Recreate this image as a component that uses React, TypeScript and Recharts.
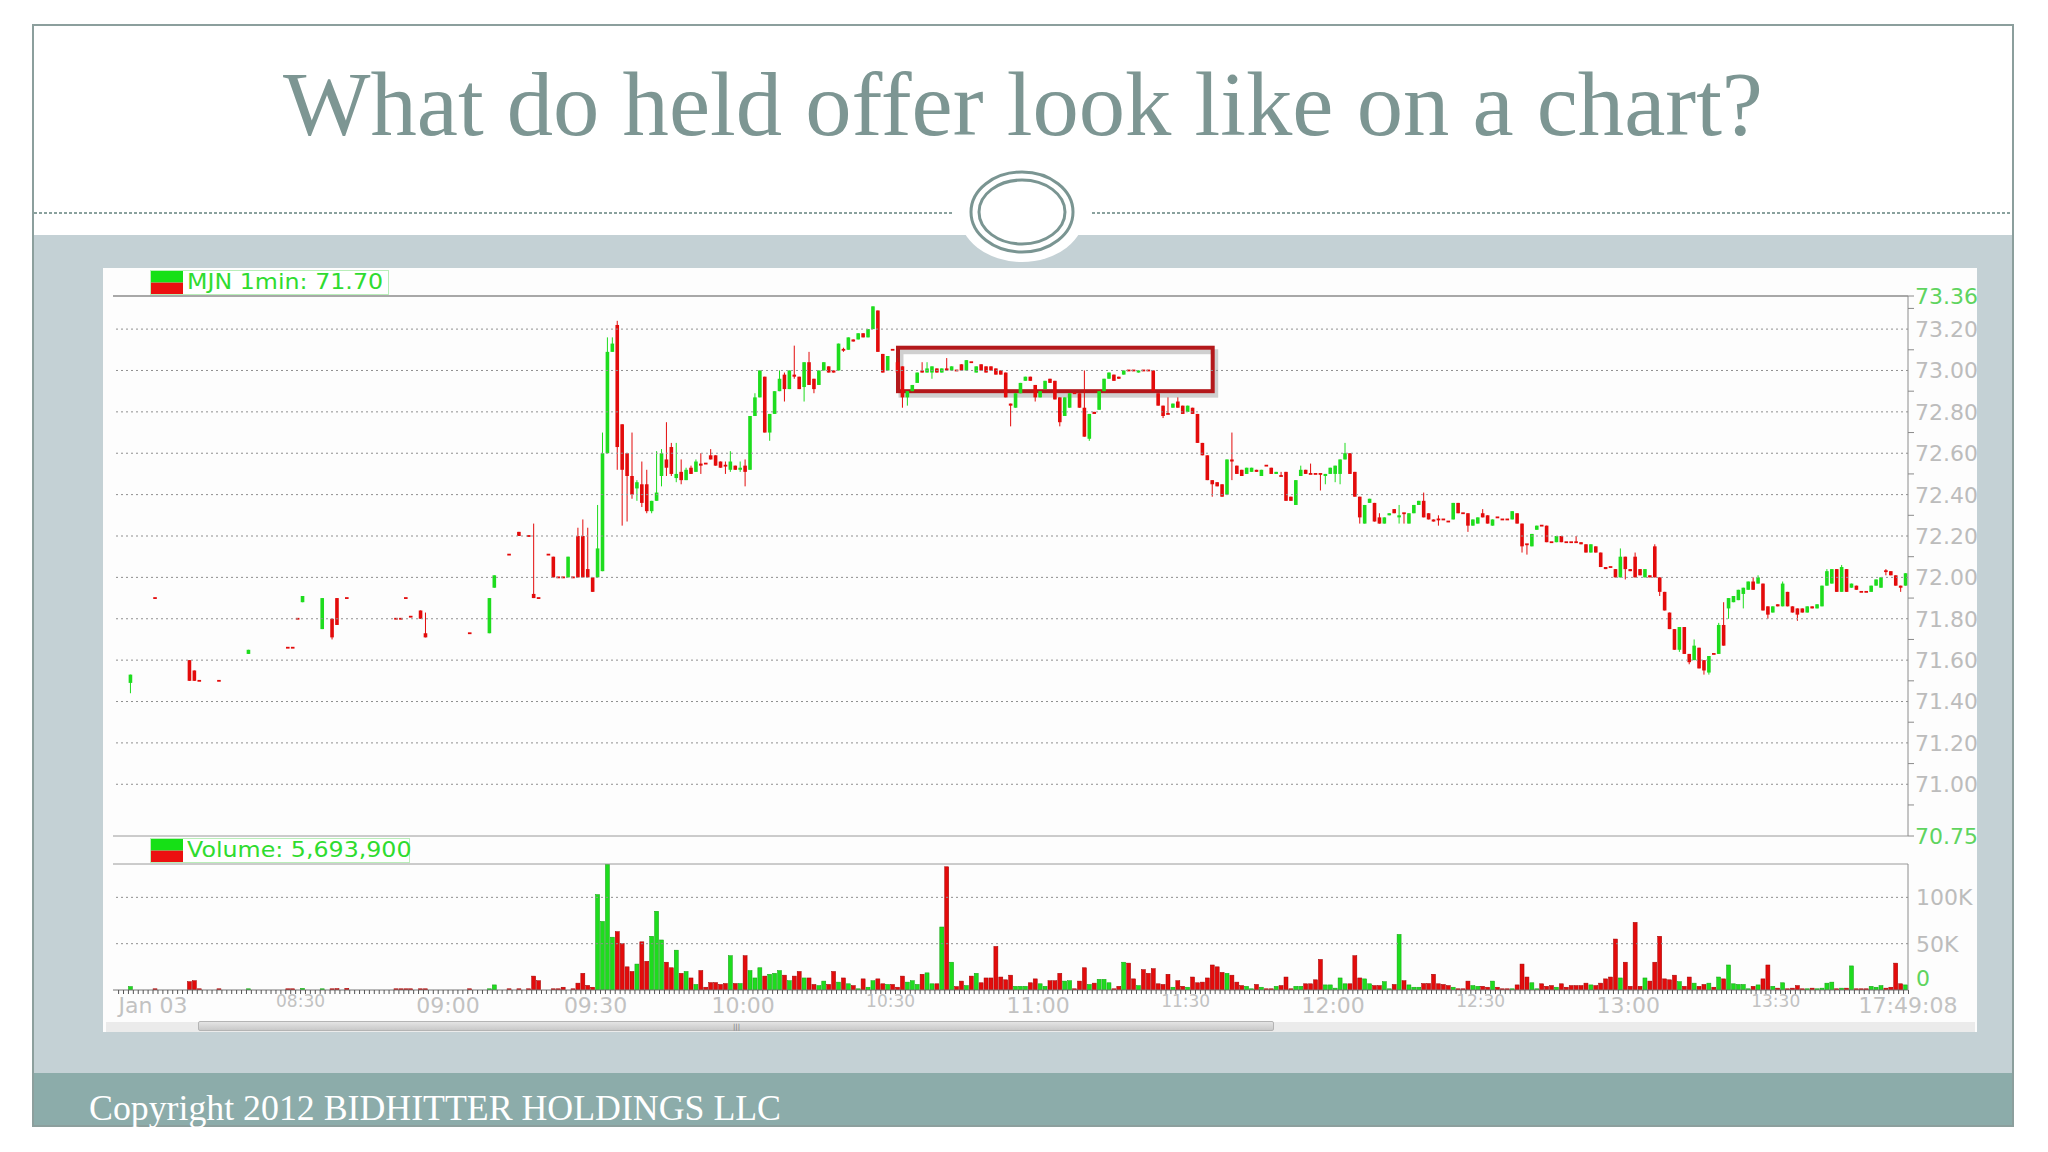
import React from 'react';
import { Bar, ComposedChart, ReferenceArea, ReferenceLine, XAxis, YAxis } from 'recharts';

// MJN one-minute candles: [minute after 08:00, open, high, low, close]
const preMarketCandles = [
  [-4, 71.49, 71.53, 71.44, 71.53], [1, 71.9, 71.9, 71.9, 71.9], [8, 71.6, 71.6, 71.5, 71.5], [9, 71.55, 71.55, 71.5, 71.5],
  [10, 71.5, 71.5, 71.5, 71.5], [14, 71.5, 71.5, 71.5, 71.5], [20, 71.63, 71.65, 71.63, 71.65], [28, 71.66, 71.66, 71.66, 71.66],
  [29, 71.66, 71.66, 71.66, 71.66], [30, 71.8, 71.8, 71.8, 71.8], [31, 71.88, 71.91, 71.88, 71.91], [35, 71.75, 71.9, 71.75, 71.9],
  [37, 71.8, 71.8, 71.7, 71.71], [38, 71.9, 71.9, 71.77, 71.77], [40, 71.9, 71.9, 71.9, 71.9], [50, 71.8, 71.8, 71.8, 71.8],
  [51, 71.8, 71.8, 71.8, 71.8], [52, 71.9, 71.9, 71.9, 71.9], [53, 71.81, 71.81, 71.81, 71.81], [55, 71.84, 71.84, 71.8, 71.8],
  [56, 71.73, 71.83, 71.71, 71.71], [65, 71.73, 71.73, 71.73, 71.73], [69, 71.73, 71.9, 71.73, 71.9], [70, 71.95, 72.01, 71.95, 72.01],
  [73, 72.11, 72.11, 72.11, 72.11], [75, 72.22, 72.22, 72.2, 72.2], [77, 72.2, 72.2, 72.2, 72.2], [78, 71.92, 72.26, 71.9, 71.9],
  [79, 71.9, 71.9, 71.9, 71.9], [81, 72.11, 72.11, 72.11, 72.11], [82, 72.1, 72.1, 72.0, 72.0], [83, 72.0, 72.0, 72.0, 72.0],
  [84, 72.0, 72.0, 72.0, 72.0], [85, 72.0, 72.1, 72.0, 72.1], [86, 72.0, 72.0, 72.0, 72.0], [87, 72.2, 72.24, 72.0, 72.0],
  [88, 72.2, 72.28, 72.0, 72.0], [89, 72.04, 72.24, 72.0, 72.0],
];

const sessionCandles = [
  [90, 72.0, 72.0, 71.93, 71.93], [91, 72.0, 72.35, 72.0, 72.14], [92, 72.03, 72.7, 72.03, 72.6], [93, 72.6, 73.16, 72.6, 73.09],
  [94, 73.09, 73.16, 73.09, 73.13], [95, 73.22, 73.24, 72.52, 72.63], [96, 72.74, 72.74, 72.25, 72.52], [97, 72.6, 72.6, 72.27, 72.49],
  [98, 72.49, 72.7, 72.38, 72.4], [99, 72.43, 72.47, 72.37, 72.46], [100, 72.45, 72.56, 72.34, 72.36], [101, 72.45, 72.52, 72.31, 72.32],
  [102, 72.32, 72.37, 72.31, 72.37], [103, 72.37, 72.61, 72.37, 72.41], [104, 72.49, 72.62, 72.44, 72.6], [105, 72.57, 72.75, 72.49, 72.53],
  [106, 72.63, 72.65, 72.49, 72.5], [107, 72.48, 72.65, 72.46, 72.5], [108, 72.51, 72.57, 72.45, 72.47], [109, 72.47, 72.53, 72.47, 72.52],
  [110, 72.53, 72.54, 72.5, 72.5], [111, 72.51, 72.57, 72.51, 72.56], [112, 72.55, 72.6, 72.5, 72.54], [113, 72.55, 72.55, 72.55, 72.55],
  [114, 72.59, 72.62, 72.57, 72.57], [115, 72.59, 72.59, 72.54, 72.54], [116, 72.56, 72.56, 72.53, 72.53], [117, 72.54, 72.56, 72.5, 72.54],
  [118, 72.52, 72.61, 72.51, 72.56], [119, 72.54, 72.54, 72.52, 72.52], [120, 72.52, 72.56, 72.51, 72.53], [121, 72.54, 72.57, 72.44, 72.51],
  [122, 72.52, 72.78, 72.52, 72.78], [123, 72.78, 72.89, 72.78, 72.87], [124, 72.87, 73.0, 72.87, 73.0], [125, 72.97, 72.97, 72.7, 72.7],
  [126, 72.7, 72.79, 72.66, 72.79], [127, 72.79, 72.9, 72.79, 72.9], [128, 72.9, 73.0, 72.9, 72.96], [129, 72.98, 72.99, 72.85, 72.91],
  [130, 72.91, 73.0, 72.91, 73.0], [131, 72.98, 73.12, 72.96, 72.97], [132, 72.97, 72.97, 72.91, 72.91], [133, 72.92, 73.04, 72.85, 73.04],
  [134, 73.04, 73.09, 72.93, 72.93], [135, 72.96, 72.96, 72.89, 72.91], [136, 72.93, 73.0, 72.93, 73.0], [137, 73.0, 73.04, 73.0, 73.04],
  [138, 73.02, 73.02, 72.99, 72.99], [139, 73.0, 73.0, 72.99, 72.99], [140, 73.0, 73.13, 73.0, 73.13], [141, 73.1, 73.11, 73.09, 73.1],
  [142, 73.1, 73.16, 73.1, 73.16], [143, 73.15, 73.15, 73.14, 73.14], [144, 73.15, 73.18, 73.15, 73.18], [145, 73.18, 73.18, 73.16, 73.16],
  [146, 73.16, 73.2, 73.16, 73.2], [147, 73.2, 73.31, 73.2, 73.31], [148, 73.29, 73.29, 73.09, 73.09], [149, 73.08, 73.08, 72.99, 72.99],
  [150, 73.0, 73.07, 73.0, 73.07], [151, 73.1, 73.1, 73.1, 73.1], [152, 73.04, 73.06, 72.99, 72.99], [153, 73.02, 73.02, 72.82, 72.87],
  [154, 72.87, 72.9, 72.83, 72.9], [155, 72.9, 72.93, 72.9, 72.93], [156, 72.94, 72.99, 72.94, 72.99], [157, 73.0, 73.04, 72.99, 72.99],
  [158, 72.99, 73.04, 72.99, 73.01], [159, 72.99, 73.02, 72.96, 73.02], [160, 73.01, 73.01, 72.99, 72.99], [161, 72.99, 73.01, 72.99, 73.01],
  [162, 73.01, 73.06, 73.0, 73.0], [163, 73.0, 73.02, 73.0, 73.02], [164, 73.0, 73.0, 73.0, 73.0], [165, 73.03, 73.03, 73.0, 73.0],
  [166, 73.0, 73.05, 73.0, 73.05], [167, 73.04, 73.04, 73.04, 73.04], [168, 72.99, 73.02, 72.99, 73.02], [169, 73.03, 73.03, 73.0, 73.0],
  [170, 73.02, 73.02, 72.99, 72.99], [171, 73.02, 73.02, 73.0, 73.0], [172, 73.01, 73.01, 72.98, 72.98], [173, 73.0, 73.0, 72.98, 72.98],
  [174, 72.99, 72.99, 72.87, 72.87], [175, 72.84, 72.84, 72.73, 72.83], [176, 72.82, 72.89, 72.82, 72.89], [177, 72.89, 72.94, 72.89, 72.94],
  [178, 72.95, 72.97, 72.95, 72.97], [179, 72.97, 72.97, 72.95, 72.95], [180, 72.93, 72.93, 72.85, 72.87], [181, 72.87, 72.9, 72.87, 72.9],
  [182, 72.91, 72.95, 72.91, 72.95], [183, 72.96, 72.96, 72.94, 72.94], [184, 72.95, 72.95, 72.86, 72.86], [185, 72.87, 72.87, 72.73, 72.75],
  [186, 72.78, 72.87, 72.78, 72.87], [187, 72.82, 72.89, 72.82, 72.89], [188, 72.89, 72.89, 72.89, 72.89], [189, 72.89, 72.89, 72.82, 72.82],
  [190, 72.82, 73.0, 72.68, 72.68], [191, 72.67, 72.79, 72.66, 72.79], [192, 72.8, 72.8, 72.79, 72.79], [193, 72.81, 72.9, 72.81, 72.9],
  [194, 72.9, 72.96, 72.9, 72.96], [195, 72.96, 72.99, 72.96, 72.99], [196, 72.98, 72.98, 72.95, 72.95], [197, 72.97, 72.97, 72.96, 72.96],
  [198, 72.98, 73.0, 72.98, 73.0], [199, 73.0, 73.0, 73.0, 73.0], [200, 73.0, 73.0, 73.0, 73.0], [201, 72.99, 73.0, 72.99, 73.0],
  [202, 73.0, 73.0, 73.0, 73.0], [203, 73.0, 73.0, 73.0, 73.0], [204, 73.0, 73.0, 72.9, 72.9], [205, 72.89, 72.89, 72.83, 72.83],
  [206, 72.83, 72.83, 72.77, 72.78], [207, 72.79, 72.87, 72.79, 72.79], [208, 72.82, 72.84, 72.82, 72.84], [209, 72.85, 72.87, 72.82, 72.82],
  [210, 72.83, 72.83, 72.79, 72.79], [211, 72.8, 72.83, 72.8, 72.83], [212, 72.82, 72.82, 72.79, 72.79], [213, 72.79, 72.79, 72.65, 72.65],
  [214, 72.65, 72.65, 72.59, 72.59], [215, 72.59, 72.59, 72.47, 72.47], [216, 72.47, 72.47, 72.39, 72.45], [217, 72.46, 72.46, 72.44, 72.44],
  [218, 72.45, 72.45, 72.39, 72.39], [219, 72.4, 72.57, 72.4, 72.57], [220, 72.57, 72.7, 72.47, 72.56], [221, 72.54, 72.54, 72.5, 72.5],
  [222, 72.52, 72.52, 72.49, 72.49], [223, 72.5, 72.53, 72.5, 72.53], [224, 72.51, 72.53, 72.51, 72.53], [225, 72.52, 72.52, 72.51, 72.51],
  [226, 72.49, 72.52, 72.49, 72.52], [227, 72.54, 72.54, 72.54, 72.54], [228, 72.53, 72.53, 72.5, 72.5], [229, 72.5, 72.51, 72.5, 72.51],
  [230, 72.49, 72.51, 72.49, 72.49], [231, 72.51, 72.51, 72.37, 72.37], [232, 72.39, 72.39, 72.37, 72.37], [233, 72.35, 72.47, 72.35, 72.47],
  [234, 72.49, 72.54, 72.49, 72.52], [235, 72.52, 72.52, 72.5, 72.5], [236, 72.5, 72.55, 72.5, 72.5], [237, 72.5, 72.5, 72.5, 72.5],
  [238, 72.5, 72.5, 72.42, 72.5], [239, 72.49, 72.5, 72.45, 72.5], [240, 72.5, 72.53, 72.5, 72.53], [241, 72.5, 72.54, 72.46, 72.54],
  [242, 72.5, 72.57, 72.45, 72.57], [243, 72.57, 72.65, 72.57, 72.6], [244, 72.6, 72.6, 72.5, 72.5], [245, 72.51, 72.51, 72.39, 72.39],
  [246, 72.39, 72.39, 72.26, 72.29], [247, 72.26, 72.35, 72.26, 72.35], [248, 72.36, 72.38, 72.36, 72.38], [249, 72.36, 72.36, 72.27, 72.27],
  [250, 72.29, 72.31, 72.26, 72.26], [251, 72.26, 72.29, 72.26, 72.29], [252, 72.3, 72.31, 72.3, 72.31], [253, 72.33, 72.33, 72.31, 72.31],
  [254, 72.29, 72.35, 72.26, 72.3], [255, 72.31, 72.31, 72.26, 72.31], [256, 72.26, 72.31, 72.26, 72.31], [257, 72.31, 72.35, 72.31, 72.35],
  [258, 72.35, 72.37, 72.35, 72.37], [259, 72.37, 72.41, 72.29, 72.29], [260, 72.31, 72.31, 72.28, 72.28], [261, 72.28, 72.28, 72.27, 72.27],
  [262, 72.28, 72.3, 72.25, 72.28], [263, 72.28, 72.28, 72.28, 72.28], [264, 72.27, 72.27, 72.27, 72.27], [265, 72.28, 72.36, 72.28, 72.36],
  [266, 72.36, 72.36, 72.31, 72.31], [267, 72.31, 72.31, 72.31, 72.31], [268, 72.31, 72.31, 72.22, 72.25], [269, 72.25, 72.28, 72.25, 72.28],
  [270, 72.26, 72.29, 72.26, 72.29], [271, 72.31, 72.33, 72.29, 72.29], [272, 72.3, 72.3, 72.26, 72.26], [273, 72.25, 72.28, 72.25, 72.28],
  [274, 72.29, 72.29, 72.29, 72.29], [275, 72.28, 72.28, 72.28, 72.28], [276, 72.28, 72.28, 72.28, 72.28], [277, 72.28, 72.32, 72.28, 72.32],
  [278, 72.31, 72.31, 72.26, 72.26], [279, 72.26, 72.26, 72.12, 72.15], [280, 72.16, 72.16, 72.11, 72.16], [281, 72.15, 72.21, 72.15, 72.21],
  [282, 72.23, 72.25, 72.23, 72.25], [283, 72.25, 72.25, 72.25, 72.25], [284, 72.25, 72.25, 72.17, 72.17], [285, 72.17, 72.17, 72.17, 72.17],
  [286, 72.17, 72.2, 72.17, 72.2], [287, 72.2, 72.2, 72.17, 72.17], [288, 72.17, 72.17, 72.17, 72.17], [289, 72.17, 72.17, 72.17, 72.17],
  [290, 72.17, 72.2, 72.17, 72.17], [291, 72.17, 72.17, 72.16, 72.16], [292, 72.16, 72.16, 72.12, 72.12], [293, 72.12, 72.16, 72.12, 72.16],
  [294, 72.15, 72.15, 72.12, 72.12], [295, 72.12, 72.12, 72.05, 72.05], [296, 72.05, 72.05, 72.04, 72.04], [297, 72.05, 72.05, 72.05, 72.05],
  [298, 72.04, 72.04, 72.0, 72.0], [299, 72.0, 72.14, 72.0, 72.1], [300, 72.1, 72.1, 71.99, 72.04], [301, 72.04, 72.04, 72.03, 72.03],
  [302, 72.1, 72.12, 72.0, 72.0], [303, 72.04, 72.04, 72.01, 72.01], [304, 72.0, 72.04, 72.0, 72.04], [305, 72.01, 72.01, 72.0, 72.0],
  [306, 72.15, 72.16, 72.0, 72.0], [307, 72.0, 72.0, 71.91, 71.93], [308, 71.93, 71.93, 71.84, 71.84], [309, 71.83, 71.83, 71.75, 71.75],
  [310, 71.75, 71.75, 71.65, 71.65], [311, 71.65, 71.76, 71.64, 71.76], [312, 71.76, 71.76, 71.63, 71.63], [313, 71.63, 71.63, 71.58, 71.59],
  [314, 71.6, 71.7, 71.6, 71.67], [315, 71.66, 71.66, 71.56, 71.56], [316, 71.6, 71.6, 71.53, 71.55], [317, 71.54, 71.62, 71.53, 71.62],
  [318, 71.63, 71.63, 71.63, 71.63], [319, 71.63, 71.78, 71.63, 71.77], [320, 71.77, 71.88, 71.67, 71.67], [321, 71.85, 71.9, 71.8, 71.9],
  [322, 71.88, 71.91, 71.88, 71.91], [323, 71.89, 71.94, 71.89, 71.94], [324, 71.92, 71.95, 71.85, 71.95], [325, 71.94, 71.98, 71.94, 71.98],
  [326, 71.98, 72.0, 71.94, 71.94], [327, 71.97, 72.01, 71.97, 72.0], [328, 71.97, 71.97, 71.84, 71.84], [329, 71.86, 71.86, 71.8, 71.82],
  [330, 71.83, 71.86, 71.83, 71.86], [331, 71.87, 71.87, 71.86, 71.86], [332, 71.86, 71.98, 71.86, 71.97], [333, 71.93, 71.93, 71.86, 71.86],
  [334, 71.86, 71.86, 71.83, 71.83], [335, 71.85, 71.85, 71.79, 71.82], [336, 71.85, 71.85, 71.83, 71.83], [337, 71.83, 71.86, 71.83, 71.86],
  [338, 71.86, 71.86, 71.85, 71.85], [339, 71.85, 71.87, 71.85, 71.87], [340, 71.86, 71.96, 71.86, 71.96], [341, 71.96, 72.04, 71.96, 72.03],
  [342, 71.97, 72.04, 71.97, 72.04], [343, 72.04, 72.04, 71.93, 71.93], [344, 71.93, 72.06, 71.93, 72.05], [345, 72.04, 72.04, 71.93, 71.93],
  [346, 71.95, 71.97, 71.95, 71.97], [347, 71.96, 71.96, 71.94, 71.94], [348, 71.93, 71.93, 71.93, 71.93], [349, 71.93, 71.93, 71.93, 71.93],
  [350, 71.93, 71.96, 71.93, 71.96], [351, 71.96, 71.99, 71.96, 71.99], [352, 71.95, 72.0, 71.95, 72.0], [353, 72.03, 72.04, 72.01, 72.03],
  [354, 72.03, 72.03, 72.01, 72.01], [355, 72.01, 72.01, 71.96, 71.96], [356, 71.96, 71.96, 71.93, 71.95], [357, 71.96, 72.02, 71.96, 72.02],
];

// volume per minute, thousands of shares: [minute after 08:00, volume]
const volumes = [
  [-4, 3.7], [1, 1], [8, 9], [9, 10], [10, 0.7], [14, 0.5], [20, 1], [28, 1], [29, 1], [31, 1.8], [35, 1], [37, 1], [38, 1.5],
  [40, 1.8], [50, 0.7], [51, 0.7], [52, 0.7], [53, 0.7], [55, 1], [56, 1.2], [65, 0.5], [69, 1], [70, 5.5], [73, 0.5], [75, 0.7],
  [77, 0.5], [78, 15], [79, 10], [82, 0.8], [83, 0.5], [84, 3], [86, 1], [87, 7.4], [88, 18], [89, 5], [90, 3],
  [91, 103], [92, 74], [93, 136], [94, 57], [95, 63], [96, 50], [97, 25], [98, 20], [99, 28], [100, 52], [101, 31], [102, 58],
  [103, 85], [104, 54], [105, 30], [106, 24], [107, 43], [108, 18], [109, 20], [110, 13], [111, 6], [112, 21], [113, 3], [114, 8],
  [115, 8], [116, 6], [117, 7], [118, 37], [119, 7], [120, 7], [121, 37], [122, 21], [123, 13], [124, 24], [125, 15], [126, 17],
  [127, 18], [128, 21], [129, 16], [130, 10], [131, 15], [132, 20], [133, 13], [134, 13], [135, 6], [136, 4.8], [137, 9.6], [138, 6],
  [139, 20], [140, 8.5], [141, 13], [142, 6.7], [143, 4.8], [144, 1], [145, 12], [146, 3], [147, 10], [148, 12], [149, 6.7], [150, 6],
  [151, 6], [152, 3], [153, 15], [154, 8.5], [155, 10], [156, 6], [157, 17], [158, 18.5], [159, 6.7], [160, 6.7], [161, 68], [162, 133],
  [163, 30], [164, 3.7], [165, 9.6], [166, 4.8], [167, 15], [168, 18], [169, 7.8], [170, 13], [171, 13], [172, 47], [173, 14], [174, 11],
  [175, 16], [176, 4], [177, 4], [178, 4], [179, 7.8], [180, 12], [181, 6.7], [182, 4], [183, 10], [184, 10], [185, 18], [186, 9.6],
  [187, 10], [188, 1], [189, 9.6], [190, 24], [191, 6], [192, 7.4], [193, 11.5], [194, 11.5], [195, 7.8], [196, 1], [197, 4], [198, 30],
  [199, 29], [200, 12], [201, 4.8], [202, 22], [203, 18], [204, 23], [205, 6.7], [206, 6], [207, 17], [208, 3], [209, 10], [210, 4],
  [211, 3], [212, 14], [213, 7.8], [214, 8.5], [215, 13], [216, 27], [217, 25], [218, 19], [219, 18], [220, 16], [221, 8.5], [222, 4.8],
  [223, 4], [224, 1], [225, 6], [226, 3], [227, 1], [228, 1], [229, 4], [230, 4.8], [231, 14], [232, 1], [233, 4], [234, 4],
  [235, 6.7], [236, 6.7], [237, 11], [238, 33], [239, 5.5], [240, 5.5], [241, 2], [242, 13], [243, 6.7], [244, 6.7], [245, 37], [246, 13],
  [247, 12], [248, 6.7], [249, 4.8], [250, 4.8], [251, 9], [252, 1], [253, 6], [254, 60], [255, 10], [256, 5.5], [257, 3], [258, 3],
  [259, 7], [260, 7], [261, 17], [262, 6.7], [263, 6], [264, 4.8], [265, 3], [266, 1], [267, 1], [268, 9.6], [269, 4.8], [270, 4],
  [271, 4], [272, 3], [273, 9.6], [274, 3], [275, 1], [276, 0.5], [277, 1], [278, 5.5], [279, 28], [280, 14], [281, 7.8], [282, 1],
  [283, 6.7], [284, 4], [285, 4.8], [286, 3], [287, 6.7], [288, 3], [289, 4.8], [290, 4.8], [291, 4.8], [292, 7.4], [293, 5.5], [294, 4.8],
  [295, 7.4], [296, 12], [297, 14], [298, 55], [299, 13], [300, 30], [301, 4], [302, 73], [303, 4], [304, 13], [305, 9.6], [306, 30],
  [307, 58], [308, 12], [309, 11], [310, 16], [311, 9], [312, 4], [313, 14], [314, 7.4], [315, 4], [316, 6], [317, 7.4], [318, 3],
  [319, 14], [320, 12], [321, 27], [322, 6.7], [323, 6], [324, 6], [325, 1], [326, 4], [327, 5.5], [328, 12], [329, 27], [330, 4],
  [331, 2], [332, 7.8], [333, 1], [334, 2], [335, 4.8], [336, 1], [337, 1], [338, 2], [339, 1], [340, 2], [341, 7.4], [342, 8.5],
  [343, 1], [344, 2], [345, 2], [346, 26], [347, 1], [348, 1], [349, 1], [350, 4], [351, 3], [352, 4.8], [353, 2], [354, 3],
  [355, 29], [356, 6.7], [357, 5.5],
];

const priceTicks = [70.75, 70.9, 71.0, 71.1, 71.2, 71.3, 71.4, 71.5, 71.6, 71.7, 71.8, 71.9, 72.0, 72.1, 72.2, 72.3, 72.4, 72.5,
  72.6, 72.7, 72.8, 72.9, 73.0, 73.1, 73.2, 73.3, 73.36];
const priceGrid = [71.0, 71.2, 71.4, 71.6, 71.8, 72.0, 72.2, 72.4, 72.6, 72.8, 73.0, 73.2];
const volumeTicks = [0, 50, 100];
const volumeTickLabels = ['0', '50K', '100K'];
const timeLabels = ['Jan 03', '08:30', '09:00', '09:30', '10:00', '10:30', '11:00', '11:30', '12:00', '12:30', '13:00', '13:30'];
const smallTimeLabels = ['08:30', '10:30', '11:30', '12:30', '13:30'];
const lastTimeLabel = '17:49:08';
const heldOffer = { from: 152, to: 216, low: 72.9, high: 73.11 };

const PRICE_MIN = 70.75;
const PRICE_MAX = 73.36;
const VOL_MAX = 136;
const X_MIN = -7.64;
const X_MAX = 357.4;

const GREEN = '#1edc1e';
const RED = '#e30b0b';
const AXIS_FONT = '"DejaVu Sans", Verdana, sans-serif';
const SLIDE_FONT = '"Liberation Serif", "DejaVu Serif", serif';

const priceData = [...preMarketCandles, ...sessionCandles].map(([t, o, h, l, c]) => ({
  t, o, h, l, c, range: [l, h], up: c > o,
}));
const upByMinute = new Map(priceData.map((d) => [d.t, d.up]));
const volumeData = volumes.map(([t, v]) => ({ t, v, up: upByMinute.get(t) ?? false }));

// minute tick marks sit on bar boundaries; labels every 30 minutes
const minuteTicks: number[] = [];
for (let k = -7; k <= 357; k++) minuteTicks.push(k + 0.5);
minuteTicks.push(X_MAX);
const labelAt = new Map<number, string>(timeLabels.map((s, i) => [i * 30 + 0.5, s]));
labelAt.set(X_MAX, lastTimeLabel);

const Candle = (props: any) => {
  const { x, y, width, height, payload } = props;
  if (x == null || y == null) return null;
  const { o, h, l, c, up } = payload;
  const cx = x + width / 2;
  const span = h - l;
  const py = (v: number) => (span > 0 ? y + ((h - v) / span) * height : y);
  const color = up ? GREEN : RED;
  const top = py(Math.max(o, c));
  const bottom = py(Math.min(o, c));
  const flat = bottom - top < 1.6;
  return (
    <g>
      {span > 0 && <line x1={cx} x2={cx} y1={y} y2={y + height} stroke={color} strokeWidth={1} />}
      <rect
        x={cx - 1.8}
        y={flat ? (top + bottom) / 2 - 0.9 : top}
        width={3.6}
        height={flat ? 1.8 : bottom - top}
        fill={color}
      />
    </g>
  );
};

const VolumeBar = (props: any) => {
  const { x, y, width, height, payload } = props;
  if (x == null || y == null) return null;
  const cx = x + width / 2;
  const h = Math.max(height, 1.2);
  return (
    <rect
      x={cx - 2}
      y={y + height - h}
      width={4}
      height={h}
      fill={payload.up ? GREEN : RED}
      stroke={payload.up ? '#10a010' : '#a00000'}
      strokeWidth={0.5}
    />
  );
};

const PriceTick = ({ x, y, payload }: any) => {
  const v = payload.value;
  const edge = v === PRICE_MIN || v === PRICE_MAX;
  const labelled = edge || priceGrid.includes(v);
  return (
    <g>
      {!labelled || edge ? <line x1={x} x2={x + 6} y1={y} y2={y} stroke="#8a8a8a" /> : null}
      {labelled && (
        <text x={x + 7} y={y} dy="0.36em" fontSize={22} fontFamily={AXIS_FONT} fill={edge ? '#5fd45f' : '#bcbcbc'}>
          {v.toFixed(2)}
        </text>
      )}
    </g>
  );
};

const VolumeTick = ({ x, y, payload }: any) => {
  const i = volumeTicks.indexOf(payload.value);
  const zero = payload.value === 0;
  return (
    <text x={x + 8} y={zero ? y - 12 : y} dy="0.36em" fontSize={22} fontFamily={AXIS_FONT} fill={zero ? '#5fd45f' : '#bcbcbc'}>
      {volumeTickLabels[i]}
    </text>
  );
};

const TimeTick = ({ x, y, payload }: any) => {
  const label = labelAt.get(payload.value);
  const small = label ? smallTimeLabels.includes(label) : false;
  return (
    <g>
      {payload.value !== X_MAX && <line x1={x} x2={x} y1={y} y2={y + 4} stroke="#555" strokeWidth={1} />}
      {label && (
        <text x={x} y={y + (small ? 17 : 23)} textAnchor="middle" fontSize={small ? 17 : 22} fontFamily={AXIS_FONT} fill="#c2c2c2">
          {label}
        </text>
      )}
    </g>
  );
};

const HeldOfferBox = (props: any) => {
  const { x, y, width, height } = props;
  return (
    <g>
      <rect x={x + 3} y={y + 4} width={width} height={height} fill="none" stroke="rgba(0,0,0,0.18)" strokeWidth={5} />
      <rect x={x} y={y} width={width} height={height} fill="none" stroke="#b3181b" strokeWidth={4} />
    </g>
  );
};

const LegendBox = ({ left, top, width, text }: { left: number; top: number; width: number; text: string }) => (
  <div
    style={{
      position: 'absolute', left, top, width, height: 25, border: '1px solid #b9eeb9', background: '#fff',
      boxSizing: 'border-box', display: 'flex', alignItems: 'center',
    }}
  >
    <div style={{ width: 32, height: 23, marginRight: 4, display: 'flex', flexDirection: 'column', flexShrink: 0 }}>
      <div style={{ flex: 1, background: '#16e016' }} />
      <div style={{ height: 1, background: '#9a9a50' }} />
      <div style={{ flex: 1, background: '#ec1010' }} />
    </div>
    <span
      style={{
        fontFamily: AXIS_FONT, fontSize: 21, color: '#2fdc2f', lineHeight: '23px', whiteSpace: 'nowrap',
        display: 'inline-block', transform: 'scaleX(1.13)', transformOrigin: 'left center',
      }}
    >
      {text}
    </span>
  </div>
);

export default function App() {
  return (
    <div style={{ position: 'relative', width: 2048, height: 1152, overflow: 'hidden', background: '#fff' }}>
      <style>{'body{margin:0}'}</style>
      <svg width={2048} height={1152} style={{ position: 'absolute', left: 0, top: 0 }}>
        <rect x={33} y={235} width={1980} height={838} fill="#c4d1d5" />
        <rect x={33} y={1073} width={1980} height={53} fill="#8cacaa" />
        <rect x={33} y={25} width={1980} height={1101} fill="none" stroke="#8c9f9d" strokeWidth={2} />
        <line x1={34} x2={953} y1={213} y2={213} stroke="#8aa19e" strokeWidth={2} strokeDasharray="3 2" />
        <line x1={1092} x2={2012} y1={213} y2={213} stroke="#8aa19e" strokeWidth={2} strokeDasharray="3 2" />
        <ellipse cx={1022} cy={213} rx={63} ry={49} fill="#fff" />
        <ellipse cx={1022} cy={212} rx={51} ry={40} fill="none" stroke="#7a9592" strokeWidth={3} />
        <ellipse cx={1022} cy={212} rx={43} ry={32} fill="none" stroke="#7a9592" strokeWidth={3} />
        <text
          x={1023} y={135} textAnchor="middle" fontFamily={SLIDE_FONT} fontSize={90} fill="#7d9693"
          textLength={1480} lengthAdjust="spacingAndGlyphs"
        >
          What do held offer look like on a chart?
        </text>
        <text x={89} y={1120} fontFamily={SLIDE_FONT} fontSize={35} fill="#fff" textLength={692} lengthAdjust="spacingAndGlyphs">
          Copyright 2012 BIDHITTER HOLDINGS LLC
        </text>
      </svg>

      <div style={{ position: 'absolute', left: 103, top: 268, width: 1874, height: 764, background: '#fdfdfd' }} />

      <div style={{ position: 'absolute', left: 113, top: 276 }}>
        <ComposedChart width={1870} height={580} data={priceData} margin={{ top: 20, right: 0, bottom: 20, left: 0 }}>
          <XAxis dataKey="t" type="number" domain={[X_MIN, X_MAX]} allowDataOverflow hide />
          <YAxis
            orientation="right"
            type="number"
            domain={[PRICE_MIN, PRICE_MAX]}
            allowDataOverflow
            ticks={priceTicks}
            interval={0}
            width={75}
            tickSize={0}
            tickMargin={0}
            tickLine={false}
            axisLine={{ stroke: '#8c8c8c' }}
            tick={<PriceTick />}
          />
          {priceGrid.map((v) => (
            <ReferenceLine key={v} y={v} stroke="#8f8f8f" strokeDasharray="2 3" />
          ))}
          <ReferenceLine y={PRICE_MAX} stroke="#a8a8a8" strokeWidth={2} />
          <ReferenceLine y={PRICE_MIN} stroke="#9a9a9a" />
          <Bar dataKey="range" barSize={4} shape={<Candle />} isAnimationActive={false} />
          <ReferenceArea
            x1={heldOffer.from}
            x2={heldOffer.to}
            y1={heldOffer.low}
            y2={heldOffer.high}
            shape={<HeldOfferBox />}
          />
        </ComposedChart>
      </div>

      <div style={{ position: 'absolute', left: 113, top: 854 }}>
        <ComposedChart width={1870} height={172} data={volumeData} margin={{ top: 10, right: 0, bottom: 0, left: 0 }}>
          <XAxis
            dataKey="t"
            type="number"
            domain={[X_MIN, X_MAX]}
            allowDataOverflow
            ticks={minuteTicks}
            interval={0}
            height={36}
            tickSize={0}
            tickMargin={0}
            tickLine={false}
            axisLine={{ stroke: '#777' }}
            tick={<TimeTick />}
          />
          <YAxis
            orientation="right"
            type="number"
            domain={[0, VOL_MAX]}
            allowDataOverflow
            ticks={volumeTicks}
            interval={0}
            width={75}
            tickSize={0}
            tickMargin={0}
            tickLine={false}
            axisLine={{ stroke: '#8c8c8c' }}
            tick={<VolumeTick />}
          />
          {[50, 100].map((v) => (
            <ReferenceLine key={v} y={v} stroke="#8f8f8f" strokeDasharray="2 3" />
          ))}
          <ReferenceLine y={VOL_MAX} stroke="#9a9a9a" />
          <Bar dataKey="v" barSize={4} shape={<VolumeBar />} isAnimationActive={false} />
        </ComposedChart>
      </div>

      <LegendBox left={150} top={270} width={239} text="MJN 1min: 71.70" />
      <LegendBox left={150} top={838} width={260} text="Volume: 5,693,900" />

      <div style={{ position: 'absolute', left: 106, top: 1022, width: 1869, height: 10, background: '#ebebeb' }} />
      <div
        style={{
          position: 'absolute', left: 198, top: 1021, width: 1076, height: 10, borderRadius: 2,
          background: 'linear-gradient(#e4e4e4, #c9c9c9)', border: '1px solid #b4b4b4', boxSizing: 'border-box',
        }}
      />
      <div style={{ position: 'absolute', left: 733, top: 1023, fontSize: 7, color: '#777', fontFamily: AXIS_FONT }}>|||</div>
    </div>
  );
}
